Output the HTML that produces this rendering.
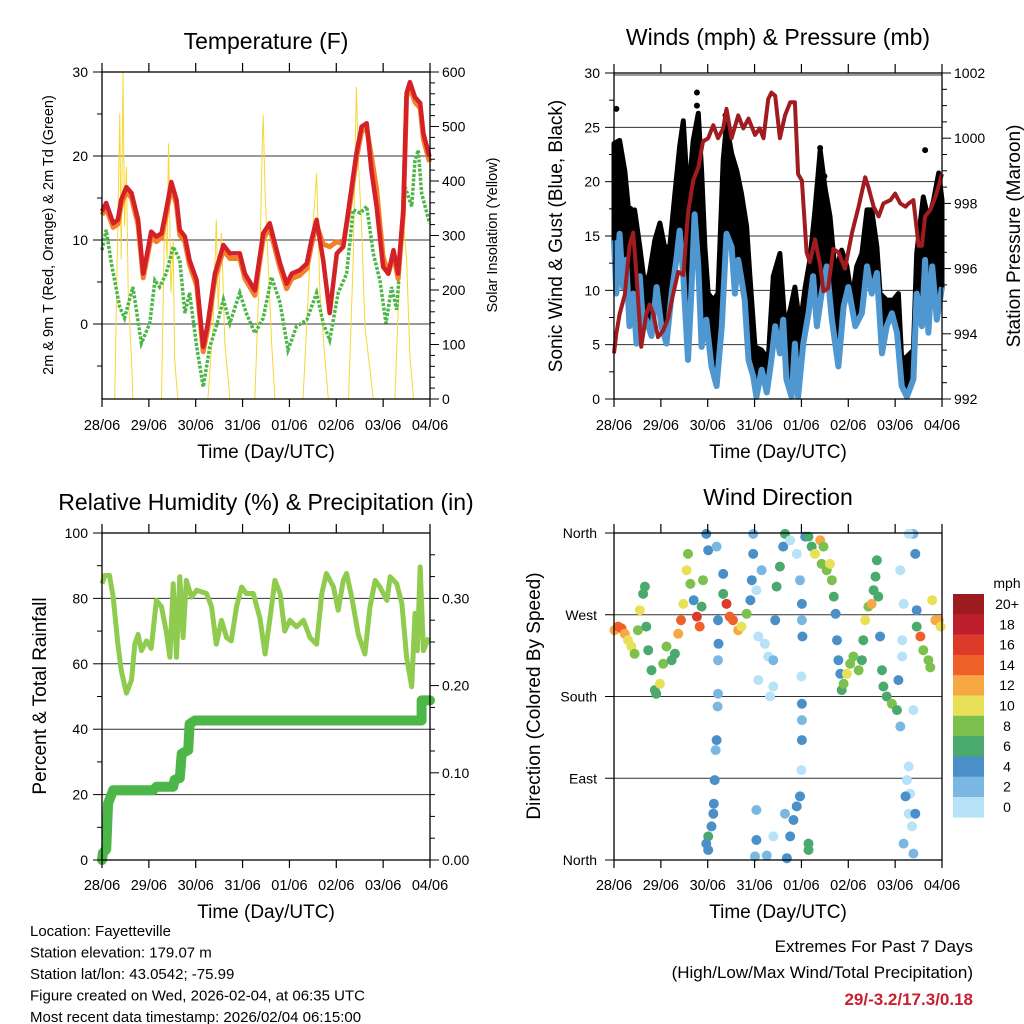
<!DOCTYPE html>
<html><head><meta charset="utf-8">
<style>
html,body{margin:0;padding:0;background:#fff;}
svg{display:block;font-family:"Liberation Sans",Arial,sans-serif;}
</style></head>
<body>
<svg id="c" width="1024" height="1024" viewBox="0 0 1024 1024" xmlns="http://www.w3.org/2000/svg">
<rect width="1024" height="1024" fill="#fff"/>
</svg>
<script>
// ---------- shared ----------
const dayLabels = ["28/06","29/06","30/06","31/06","01/06","02/06","03/06","04/06"];

// ---------- Temperature panel data ----------
const tDays = [0,.09,.24,.34,.41,.52,.63,.77,.88,.95,1.05,1.16,1.27,1.37,1.48,1.59,1.66,1.77,1.87,2.02,2.16,2.26,2.41,2.59,2.73,2.94,3.05,3.26,3.44,3.58,3.69,3.8,3.94,4.05,4.22,4.37,4.47,4.58,4.72,4.86,5.01,5.15,5.29,5.43,5.54,5.65,5.75,5.86,6.0,6.11,6.22,6.32,6.43,6.5,6.57,6.68,6.79,6.86,6.99];
const temp2m = [13.4,14.4,12,12.4,14.8,16.3,15.6,12.4,6,8,11,10.4,10.8,13.6,16.9,14.8,11.2,10.4,7.6,5.2,-2.7,0.1,6,9.4,8.4,8.4,6,4,10.8,12,9.6,7.2,4.8,6,6.4,7.2,10,12.4,7.6,1.3,8.4,9.2,14.8,20.3,23.5,23.9,18.3,14,6.8,6,8.8,6,13.6,27.5,28.8,27,26.3,22.7,19.9];
const temp9m = [13,13.8,11.5,11.9,14.2,15.8,15,11.8,5.5,7.5,10.4,9.8,10.3,13,16.3,14.2,10.6,9.8,7,4.6,-3.3,-0.5,5.4,8.8,7.8,7.8,5.4,3.4,10.2,11.4,9,6.6,4.2,5.4,5.8,6.6,9.4,11.8,9.5,9.2,9.8,9.5,14.2,19.7,22.9,23.3,20,16,8,6,8.2,5.4,13,27,28.2,26.4,25.7,22,19.3];
const tdDays = [0,.09,.2,.38,.48,.66,.84,1.02,1.13,1.23,1.37,1.52,1.66,1.77,1.87,2.02,2.16,2.3,2.44,2.59,2.73,2.94,3.08,3.26,3.44,3.62,3.8,3.97,4.15,4.37,4.58,4.72,4.86,5.04,5.22,5.36,5.51,5.65,5.79,5.93,6.06,6.18,6.29,6.47,6.61,6.68,6.75,6.82,6.99];
const dewpt = [8.8,11.2,7.2,2,0.7,4.4,-2.3,0.1,5.2,4.4,6,9.2,7.6,1.3,3.7,-2.7,-7.5,-2.7,-0.3,2.9,0.1,3.7,1.3,-1.1,0.7,5.6,2.5,-3.1,-0.3,0.5,3.7,0.1,-1.9,3.7,6,13.6,13.2,14,8.4,5.2,0.1,4.4,1.7,16.3,14,19.5,20.7,15.6,12];
const solarDays = [0.27,0.38,0.41,0.45,0.48,0.52,0.56,0.63,0.66,1.27,1.34,1.39,1.42,1.47,1.52,1.55,1.62,2.26,2.37,2.44,2.48,2.55,2.62,2.73,3.26,3.37,3.42,3.44,3.48,3.55,3.62,3.69,4.29,4.44,4.52,4.58,4.65,4.76,4.83,5.26,5.36,5.43,5.47,5.54,5.61,5.79,6.25,6.36,6.43,6.5,6.57,6.65];
const solar = [0,524,256,600,317,426,195,73,0,0,353,256,469,195,292,73,0,0,134,329,164,305,104,0,0,256,469,521,378,244,104,0,0,256,341,414,195,73,0,0,256,573,439,317,134,0,0,256,329,256,79,0];
const tTicks = [30,20,10,0];
const solarTicks = [0,100,200,300,400,500,600];

// ---------- Wind panel data ----------
const wDays = [0,.05,.12,.19,.26,.33,.41,.48,.55,.62,.69,.8,.91,1.01,1.12,1.23,1.33,1.4,1.48,1.58,1.65,1.72,1.8,1.87,1.97,2.08,2.19,2.3,2.4,2.51,2.58,2.65,2.72,2.79,2.87,2.97,3.04,3.15,3.26,3.36,3.44,3.54,3.61,3.68,3.79,3.86,3.93,4.04,4.15,4.25,4.33,4.43,4.54,4.65,4.79,4.9,5.0,5.15,5.29,5.4,5.5,5.61,5.72,5.82,5.93,6.04,6.14,6.25,6.39,6.46,6.57,6.64,6.71,6.79,6.89,7.0];
const windSpeed = [14.6,9.7,15.2,10.3,12.8,6.7,9.7,5.1,11.3,6.7,7.3,5.8,10.3,6.7,5.1,9.7,12.8,15.5,11.3,3.6,9.7,17,12.2,4.8,7.3,3,1.2,6.7,15.2,14,9.7,12.8,11,9.1,3.6,2.1,0.2,2.7,0.6,3.6,6.7,4.2,7.3,1.8,0.2,5.1,0.2,5.1,7.9,11.3,6.7,9.7,12.2,7.3,3,8.5,10.3,6.7,7.9,12.2,9.7,11.6,4.2,6.7,7.9,6.1,1.2,0.2,1.8,9.7,6.7,12.8,6.1,12.2,7.3,10.3];
const gDays = [0,.12,.23,.33,.44,.55,.66,.76,.87,.98,1.08,1.19,1.3,1.4,1.48,1.58,1.69,1.8,1.87,1.94,2.01,2.12,2.22,2.33,2.4,2.51,2.62,2.72,2.83,2.9,3.01,3.15,3.29,3.4,3.54,3.65,3.76,3.86,3.97,4.08,4.18,4.29,4.4,4.5,4.61,4.72,4.86,4.97,5.08,5.18,5.29,5.4,5.5,5.61,5.68,5.82,5.96,6.07,6.14,6.25,6.39,6.46,6.6,6.71,6.82,6.93,7.0];
const gustSpeed = [23.5,23.8,21,16.5,17.4,14,10.3,11.6,14.6,16.2,14,14,18.9,23.2,25.6,18.3,23.8,26.3,21,14,9.7,9.1,9.7,22,25.3,22.6,21,18.9,15.9,11.3,4.8,4.5,3.6,11.3,13.4,6.7,8.2,10.3,6.7,10.3,12.8,17.4,22.9,19.5,16.8,11.6,13.7,12.2,9.1,12.2,13.4,17.4,17.4,14,9.7,9.1,9.1,9.7,3.6,3.9,4.5,13.4,18.6,16.5,18.3,20.8,18.3];
const gustOutDays = [0.05,1.77,1.77,2.38,4.4,6.64,4.49,0.35];
const gustOut = [26.7,28.2,27,26.1,23.1,22.9,20.5,17.5];
const pDays = [0,.05,.12,.23,.33,.41,.48,.58,.69,.76,.84,.94,1.05,1.16,1.26,1.37,1.48,1.58,1.69,1.8,1.9,2.01,2.12,2.22,2.33,2.4,2.51,2.65,2.76,2.87,3.01,3.11,3.19,3.29,3.36,3.44,3.54,3.65,3.76,3.86,3.93,4.01,4.11,4.18,4.29,4.4,4.47,4.57,4.68,4.79,4.93,5.08,5.22,5.36,5.43,5.54,5.65,5.75,5.9,6.0,6.11,6.22,6.29,6.39,6.5,6.57,6.64,6.75,6.86,7.0];
const pressure = [993.4,994,994.6,995.2,996.7,997.1,995.8,993.6,994.6,994.9,994.6,993.9,994.1,994.5,995.2,995.9,995.8,997.7,998.7,999.1,999.9,1000,1000.4,1000,1000.3,1000.9,1000,1000.7,1000.3,1000.6,1000.1,1000.3,1000,1001.2,1001.4,1001.3,1000,1000.7,1001.1,1001.1,998.9,998.7,996.5,996.2,996.9,996.1,995.3,995.4,996.6,996.5,996,997.1,997.9,998.8,998.5,997.9,997.6,998,998.1,998.3,998,997.9,998,998.1,996.7,996.7,997.6,997.8,998.2,998.9];
const windTicks = [0,5,10,15,20,25,30];
const presTicks = [992,994,996,998,1000,1002];

// ---------- RH panel data ----------
const rhDays = [0,.06,.16,.24,.34,.41,.52,.63,.7,.77,.84,.95,1.05,1.16,1.27,1.37,1.45,1.52,1.59,1.66,1.73,1.8,1.91,2.02,2.23,2.34,2.44,2.55,2.66,2.76,2.87,2.98,3.08,3.23,3.37,3.48,3.58,3.69,3.8,3.9,4.01,4.15,4.3,4.44,4.58,4.69,4.79,4.94,5.04,5.15,5.22,5.33,5.47,5.61,5.72,5.83,5.93,6.08,6.15,6.29,6.4,6.5,6.61,6.68,6.73,6.79,6.86,6.97];
const rh = [84.5,87,87,80.4,66,58,51,55,66,69,64,67,64.7,79.4,77.4,70,62,84.5,62,86.6,68,85.5,80.4,82.5,81.5,77.4,66,73.3,68,67,77.4,83.5,81.5,81.5,74,63,73.3,85.5,81.5,70,73.3,71.3,73.3,68,66,81.5,87.6,83.5,76.4,85.5,87.6,80.4,69,63,77.4,85.5,83.5,79.4,86.6,84.5,78.4,62,53,75.4,64,89.6,64,68];
const prDays = [0,.02,.09,.13,.24,1.09,1.16,1.52,1.55,1.66,1.7,1.84,1.87,1.98,6.82,6.82,7.0];
const precip = [0,0.008,0.012,0.065,0.08,0.08,0.084,0.084,0.092,0.094,0.122,0.126,0.156,0.16,0.16,0.183,0.183];
const rhTicks = [0,20,40,60,80,100];
const prTicks = [0,0.1,0.2,0.3];
const prTickLabels = ["0.00","0.10","0.20","0.30"];

// ---------- Wind direction data ----------
const dirDays = [0.01,0.09,0.16,0.23,0.3,0.37,0.44,0.51,0.55,0.62,0.66,0.69,0.73,0.8,0.87,0.9,0.98,1.05,1.12,1.23,1.3,1.37,1.43,1.48,1.55,1.58,1.63,1.7,1.77,1.83,1.87,1.9,1.97,2.01,2.19,2.22,2.23,2.22,2.22,2.21,2.19,2.17,2.15,2.13,2.12,2.08,2.01,1.97,2.01,2.33,2.33,2.4,2.47,2.54,2.65,2.72,2.83,2.91,2.94,2.97,2.97,3.04,3.08,3.08,3.15,3.22,3.29,3.33,3.4,3.4,3.44,3.47,3.54,3.61,3.65,3.76,3.9,3.97,4.01,4.01,4.02,4.0,4.01,4.01,4.01,4.0,3.97,3.9,3.83,3.76,3.69,3.65,3.04,3.01,3.04,3.26,3.4,4.15,4.15,4.08,4.15,4.22,4.29,4.4,4.47,4.43,4.54,4.61,4.65,4.69,4.73,4.76,4.79,4.83,4.86,4.9,4.97,5.04,5.11,5.22,5.29,5.32,5.36,5.43,5.5,5.54,5.58,5.61,5.64,5.68,5.72,5.75,5.82,5.93,6.04,6.07,6.11,6.11,6.18,6.15,6.15,6.39,6.43,6.39,6.29,6.46,6.46,6.54,6.6,6.71,6.75,6.79,6.86,6.93,6.97,6.29,6.25,6.32,6.22,6.29,6.36,6.18,6.39,6.43];
const dirDeg = [253,257,255,249,242,235,227,253,275,293,301,257,231,209,187,183,194,216,235,220,227,249,264,282,319,337,304,286,268,257,279,308,359,341,345,264,238,220,183,169,132,121,88,62,51,37,26,18,11,315,293,282,268,264,253,257,271,286,308,359,337,297,246,198,319,238,224,180,191,220,264,301,323,345,359,352,337,308,282,264,246,202,172,154,132,99,70,59,44,26,2,51,22,4,55,5,26,11,18,356,356,345,337,352,345,326,319,326,308,290,271,242,220,205,187,194,205,216,224,209,220,242,264,279,282,297,312,330,290,246,209,191,180,172,165,198,147,319,282,242,224,165,337,359,359,275,257,246,231,220,212,286,264,264,257,103,88,73,70,51,37,18,7,51];
const dirSpeed = [13,15,14,12,10,11,9,8,10,7,6,7,6,6,7,6,10,9,8,6,7,12,15,11,10,8,9,5,16,15,7,8,4,4,2,4,4,2,2,3,4,3,4,4,4,4,6,4,4,4,7,16,15,14,12,10,9,4,4,3,4,1,1,1,2,1,1,1,1,3,5,6,6,4,6,1,1,3,4,3,4,1,4,3,4,1,4,4,4,4,4,3,4,3,2,3,1,6,7,4,6,7,10,12,9,8,9,11,8,6,4,5,4,5,6,8,10,8,8,8,7,6,10,9,12,7,6,6,6,4,6,6,6,8,6,4,2,1,1,1,1,1,4,2,1,4,6,14,8,8,8,10,12,13,10,1,1,1,4,1,1,2,2,4];
const dirTicks = [0,90,180,270,360];
const dirTickLabels = ["North","East","South","West","North"];
const speedBins = [0,2,4,6,8,10,12,14,16,18,20];
const speedBinLabels = ["0","2","4","6","8","10","12","14","16","18","20+"];
const speedColors = ["#b7e2f7","#7ab8e3","#4a8fc7","#4aa96c","#7cc14d","#e8e057","#f8a843","#f06128","#de3a2a","#bf1e2d","#9b1b1e"];

// ---------- helpers ----------
const NS = "http://www.w3.org/2000/svg";
const svg = document.getElementById('c');
function mk(tag, attrs, parent) {
  const e = document.createElementNS(NS, tag);
  for (const k in attrs) e.setAttribute(k, attrs[k]);
  (parent || svg).appendChild(e);
  return e;
}
function txt(s, x, y, size, anchor, parent, extra) {
  const t = mk('text', Object.assign({x: x, y: y, 'font-size': size, 'text-anchor': anchor || 'middle', fill: '#000'}, extra || {}), parent);
  t.textContent = s;
  return t;
}
function pathFrom(xs, ys, fx, fy) {
  let d = '';
  for (let i = 0; i < xs.length; i++) d += (i ? 'L' : 'M') + fx(xs[i]).toFixed(1) + ' ' + fy(ys[i]).toFixed(1);
  return d;
}
function xAxisTicks(g, X, y0, y1, labelY) {
  for (let i = 0; i < dayLabels.length; i++) {
    const x = X(i);
    mk('line', {x1: x, x2: x, y1: y1, y2: y1 + 8, stroke: '#000', 'stroke-width': 1.2}, g);
    mk('line', {x1: x, x2: x, y1: y0, y2: y0 - 9, stroke: '#000', 'stroke-width': 1.2}, g);
    const t = txt(dayLabels[i], x, labelY, 14.5, 'middle', g);
    
    
  }
}

// ================= Panel 1: Temperature =================
(function () {
  const L = 102, R = 430, T = 72, B = 399;
  const X = d => L + d * (R - L) / 7;
  const Y = v => 324 - v * 8.4;
  const YS = s => B - s * (B - T) / 600;
  const g = mk('g', {});
  
  
  const ti = txt('Temperature (F)', 266, 49, 23, 'middle', g);
  
  
  for (const v of [20, 10, 0]) mk('line', {x1: L, x2: R, y1: Y(v), y2: Y(v), stroke: '#333', 'stroke-width': 1}, g);
  const sp = mk('path', {d: 'M' + X(0) + ' ' + B + pathFrom(solarDays, solar, X, YS).replace(/^M/, 'L') + 'L' + X(7) + ' ' + B, fill: 'none', stroke: '#f7d734', 'stroke-width': 1}, g);
  
  
  const dp = mk('path', {d: pathFrom(tdDays, dewpt, X, Y), fill: 'none', stroke: '#4cb648', 'stroke-width': 3.5, 'stroke-dasharray': '3 1.6'}, g);
  
  
  const op = mk('path', {d: pathFrom(tDays, temp9m, X, Y), fill: 'none', stroke: '#f37f2b', 'stroke-width': 5, 'stroke-linejoin': 'round'}, g);
  
  
  const rp = mk('path', {d: pathFrom(tDays, temp2m, X, Y), fill: 'none', stroke: '#d42027', 'stroke-width': 4.5, 'stroke-linejoin': 'round'}, g);
  
  
  mk('rect', {x: L, y: T, width: R - L, height: B - T, fill: 'none', stroke: '#000', 'stroke-width': 1.3}, g);
  for (let v = -5; v <= 30; v += 5) {
    const major = v % 10 === 0;
    mk('line', {x1: L, x2: L - (major ? 9 : 5), y1: Y(v), y2: Y(v), stroke: '#000'}, g);
  }
  for (const v of tTicks) {
    const t = txt(String(v), L - 14, Y(v) + 5, 14, 'end', g);
    
    
  }
  for (let s = 0; s <= 600; s += 20) {
    const major = s % 100 === 0;
    mk('line', {x1: R, x2: R + (major ? 9 : 5), y1: YS(s), y2: YS(s), stroke: '#000'}, g);
  }
  for (const s of solarTicks) {
    const t = txt(String(s), R + 12, YS(s) + 5, 14, 'start', g);
    
    
  }
  xAxisTicks(g, X, T, B, 430);
  const xt = txt('Time (Day/UTC)', 266, 458, 19, 'middle', g);
  
  
  const yt = txt('2m & 9m T (Red, Orange) & 2m Td (Green)', 0, 0, 14.5, 'middle', g, {transform: 'translate(53,235) rotate(-90)'});
  
  
  const y2 = txt('Solar Insolation (Yellow)', 0, 0, 14.5, 'middle', g, {transform: 'translate(497,235) rotate(-90)'});
  
  
})();

// ================= Panel 2: Winds =================
(function () {
  const L = 614, R = 942, T = 73, B = 399;
  const X = d => L + d * (R - L) / 7;
  const Y = v => B - v * (B - T) / 30;
  const YP = p => B - (p - 992) * (B - T) / 10;
  const g = mk('g', {});
  
  
  const ti = txt('Winds (mph) & Pressure (mb)', 778, 45, 23, 'middle', g);
  
  
  for (const v of [5, 10, 15, 20, 25]) mk('line', {x1: L, x2: R, y1: Y(v), y2: Y(v), stroke: '#333', 'stroke-width': 1}, g);
  mk('line', {x1: L, x2: R, y1: Y(30) + 2, y2: Y(30) + 2, stroke: '#333', 'stroke-width': 1}, g);
  let d = pathFrom(gDays, gustSpeed, X, Y);
  for (let i = wDays.length - 1; i >= 0; i--) d += 'L' + X(wDays[i]).toFixed(1) + ' ' + Y(windSpeed[i]).toFixed(1);
  const gb = mk('path', {d: d + 'Z', fill: '#000', stroke: '#000', 'stroke-width': 5, 'stroke-linejoin': 'round'}, g);
  
  
  for (let i = 0; i < gustOut.length; i++) {
    const c = mk('circle', {cx: X(gustOutDays[i]), cy: Y(gustOut[i]), r: 3, fill: '#000'}, g);
    
    
  }
  const wl = mk('path', {d: pathFrom(wDays, windSpeed, X, Y), fill: 'none', stroke: '#4f97d0', 'stroke-width': 6, 'stroke-linejoin': 'round'}, g);
  
  
  const pl = mk('path', {d: pathFrom(pDays, pressure, X, YP), fill: 'none', stroke: '#a01c20', 'stroke-width': 4, 'stroke-linejoin': 'round'}, g);
  
  
  mk('rect', {x: L, y: T, width: R - L, height: B - T, fill: 'none', stroke: '#000', 'stroke-width': 1.3}, g);
  for (let v = 0; v <= 30; v += 2.5) {
    const major = v % 5 === 0;
    mk('line', {x1: L, x2: L - (major ? 9 : 5), y1: Y(v), y2: Y(v), stroke: '#000'}, g);
  }
  for (const v of windTicks) {
    const t = txt(String(v), L - 14, Y(v) + 5, 14, 'end', g);
    
    
  }
  for (let p = 992; p <= 1002.01; p += 0.5) {
    const major = Math.abs(p % 2) < 0.01;
    mk('line', {x1: R, x2: R + (major ? 9 : 5), y1: YP(p), y2: YP(p), stroke: '#000'}, g);
  }
  for (const p of presTicks) {
    const t = txt(String(p), R + 12, YP(p) + 5, 14, 'start', g);
    
    
  }
  xAxisTicks(g, X, T, B, 430);
  const xt = txt('Time (Day/UTC)', 778, 458, 19, 'middle', g);
  
  
  const yt = txt('Sonic Wind & Gust (Blue, Black)', 0, 0, 19, 'middle', g, {transform: 'translate(562,236) rotate(-90)'});
  
  
  const y2 = txt('Station Pressure (Maroon)', 0, 0, 19, 'middle', g, {transform: 'translate(1020,236) rotate(-90)'});
  
  
})();

// ================= Panel 3: RH & precip =================
(function () {
  const L = 102, R = 430, T = 533, B = 860;
  const X = d => L + d * (R - L) / 7;
  const Y = v => B - v * (B - T) / 100;
  const YP = p => B - p / 0.375 * (B - T);
  const g = mk('g', {});
  
  
  const ti = txt('Relative Humidity (%) & Precipitation (in)', 266, 510, 23, 'middle', g);
  
  
  for (const v of [20, 40, 60, 80]) mk('line', {x1: L, x2: R, y1: Y(v), y2: Y(v), stroke: '#333', 'stroke-width': 1}, g);
  const rl = mk('path', {d: pathFrom(rhDays, rh, X, Y), fill: 'none', stroke: '#8fcb4f', 'stroke-width': 5, 'stroke-linejoin': 'round'}, g);
  
  
  const pl = mk('path', {d: pathFrom(prDays, precip, X, YP), fill: 'none', stroke: '#4cb648', 'stroke-width': 10, 'stroke-linejoin': 'round', 'stroke-linecap': 'round'}, g);
  
  
  mk('rect', {x: L, y: T, width: R - L, height: B - T, fill: 'none', stroke: '#000', 'stroke-width': 1.3}, g);
  for (let v = 0; v <= 100; v += 10) {
    const major = v % 20 === 0;
    mk('line', {x1: L, x2: L - (major ? 9 : 5), y1: Y(v), y2: Y(v), stroke: '#000'}, g);
  }
  for (const v of rhTicks) {
    const t = txt(String(v), L - 14, Y(v) + 5, 14, 'end', g);
    
    
  }
  for (let p = 0; p <= 0.375; p += 0.025) {
    const major = Math.abs((p * 10) % 1) < 0.01 || Math.abs((p * 10) % 1 - 1) < 0.01;
    mk('line', {x1: R, x2: R + (major ? 9 : 5), y1: YP(p), y2: YP(p), stroke: '#000'}, g);
  }
  for (let i = 0; i < prTicks.length; i++) {
    const t = txt(prTickLabels[i], R + 12, YP(prTicks[i]) + 5, 14, 'start', g);
    
    
  }
  xAxisTicks(g, X, T, B, 890);
  const xt = txt('Time (Day/UTC)', 266, 918, 19, 'middle', g);
  
  
  const yt = txt('Percent & Total Rainfall', 0, 0, 19, 'middle', g, {transform: 'translate(46,696) rotate(-90)'});
  
  
})();

// ================= Panel 4: Wind direction =================
(function () {
  const L = 614, R = 942, T = 533, B = 860;
  const X = d => L + d * (R - L) / 7;
  const Y = v => B - v * (B - T) / 360;
  const g = mk('g', {});
  
  
  const ti = txt('Wind Direction', 778, 505, 23, 'middle', g);
  
  
  for (const v of [90, 180, 270, 360]) mk('line', {x1: L, x2: R, y1: Y(v), y2: Y(v), stroke: '#333', 'stroke-width': 1}, g);
  const colorFor = s => {
    let k = 0;
    for (let i = 0; i < speedBins.length; i++) if (s >= speedBins[i]) k = i;
    return speedColors[k];
  };
  for (let i = 0; i < dirDays.length; i++) {
    const c = mk('circle', {cx: X(dirDays[i]).toFixed(1), cy: Y(dirDeg[i]).toFixed(1), r: 5, fill: colorFor(dirSpeed[i])}, g);
    
    
  }
  mk('rect', {x: L, y: T, width: R - L, height: B - T, fill: 'none', stroke: '#000', 'stroke-width': 1.3}, g);
  for (let i = 0; i < dirTicks.length; i++) {
    mk('line', {x1: L, x2: L - 9, y1: Y(dirTicks[i]), y2: Y(dirTicks[i]), stroke: '#000'}, g);
    const t = txt(dirTickLabels[i], L - 17, Y(dirTicks[i]) + 5, 14, 'end', g);
    
    
  }
  xAxisTicks(g, X, T, B, 890);
  const xt = txt('Time (Day/UTC)', 778, 918, 19, 'middle', g);
  
  
  const yt = txt('Direction (Colored By Speed)', 0, 0, 19, 'middle', g, {transform: 'translate(540,696) rotate(-90)'});
  
  
  const lg = mk('g', {}, g);
  
  
  const mt = txt('mph', 1007, 588, 14, 'middle', lg);
  
  
  const bh = 20.3;
  for (let i = 0; i < speedColors.length; i++) {
    const k = speedColors.length - 1 - i;
    const y = 594 + i * bh;
    const r = mk('rect', {x: 953, y: y, width: 31, height: bh + 0.3, fill: speedColors[k]}, lg);
    
    
    const t = txt(speedBinLabels[k], 1007, y + 15, 14, 'middle', lg);
    
    
  }
})();

// ================= Footer =================
(function () {
  const g = mk('g', {});
  
  
  const lines = ['Location: Fayetteville', 'Station elevation: 179.07 m', 'Station lat/lon: 43.0542; -75.99', 'Figure created on Wed, 2026-02-04, at 06:35 UTC', 'Most recent data timestamp: 2026/02/04 06:15:00'];
  lines.forEach((s, i) => {
    const t = txt(s, 30, 936 + i * 21.5, 15, 'start', g);
    
    
  });
  const e = mk('g', {});
  
  
  const a = txt('Extremes For Past 7 Days', 973, 952, 17, 'end', e);
  
  
  const b = txt('(High/Low/Max Wind/Total Precipitation)', 973, 978, 17, 'end', e);
  
  
  const c = txt('29/-3.2/17.3/0.18', 973, 1005, 17, 'end', e, {fill: '#c8202e', 'font-weight': 'bold'});
  
  
})();
</script>
</body></html>
